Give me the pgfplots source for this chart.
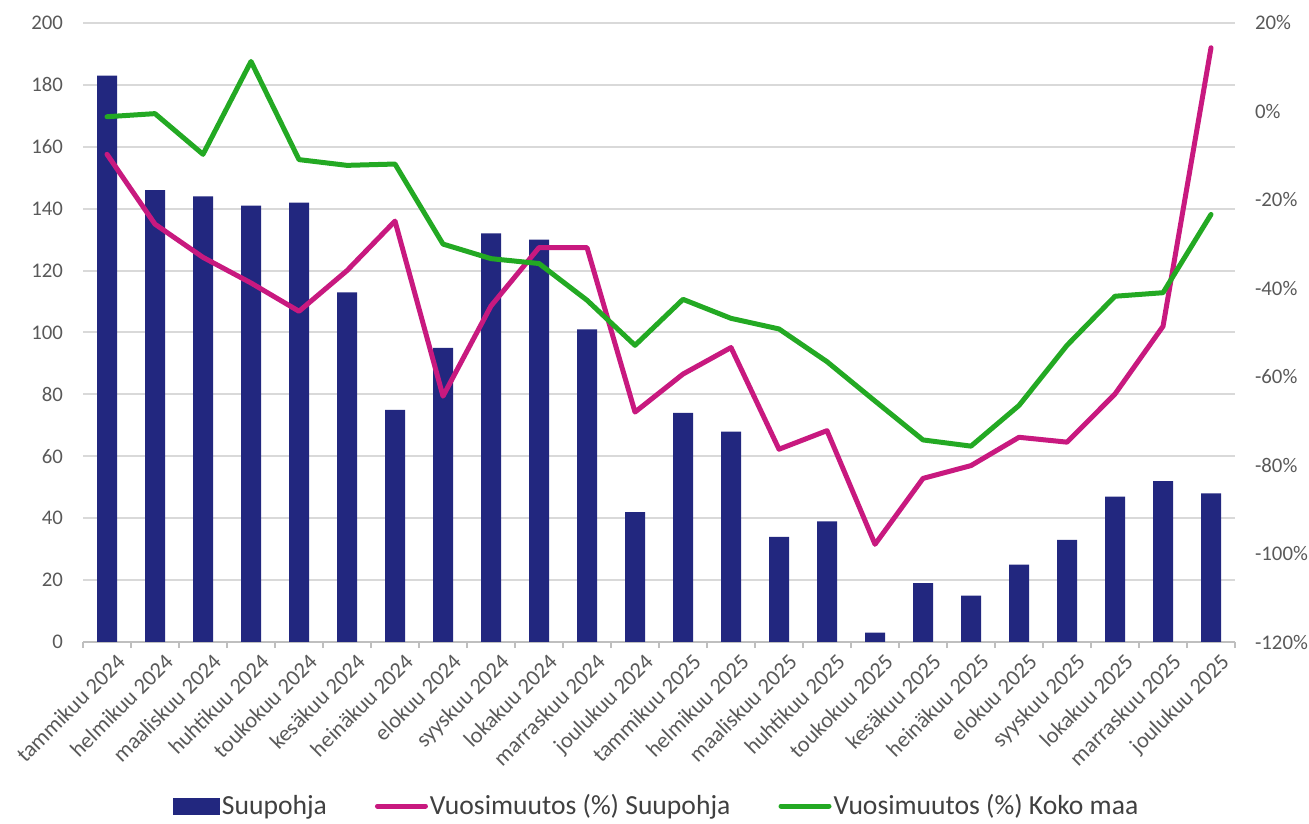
\documentclass[border=0pt]{standalone}
\usepackage{fontspec}
\setmainfont{Carlito}
\usepackage{pgfplots}
\usepackage{pgfplotstable}
\pgfplotsset{compat=1.18}

\definecolor{suunavy}{HTML}{22277F}
\definecolor{suumag}{HTML}{C8197F}
\definecolor{kokogreen}{HTML}{23A923}
\definecolor{gridgray}{HTML}{D9D9D9}
\definecolor{axisgray}{HTML}{BFBFBF}
\definecolor{labelgray}{HTML}{595959}
\definecolor{legendgray}{HTML}{404040}

% kpl = Suupohja (left), suu / koko = vuosimuutos % (right)
\pgfplotstableread{
idx kpl suu koko
0 183 -9.7 -1.2
1 146 -25.5 -0.5
2 144 -33.0 -9.7
3 141 -38.8 11.3
4 142 -45.2 -10.9
5 113 -36.0 -12.2
6 75 -24.8 -11.9
7 95 -64.4 -30.0
8 132 -44.0 -33.3
9 130 -30.8 -34.4
10 101 -30.8 -42.7
11 42 -68.0 -52.9
12 74 -59.4 -42.5
13 68 -53.4 -46.8
14 34 -76.4 -49.2
15 39 -72.2 -56.6
16 3 -97.9 -65.5
17 19 -83.0 -74.3
18 15 -80.1 -75.7
19 25 -73.7 -66.5
20 33 -74.8 -52.9
21 47 -63.9 -41.8
22 52 -48.6 -41.0
23 48 14.4 -23.3
}\data

\pgfplotsset{
  common/.style={
    at={(0,0)}, anchor=south west,
    scale only axis, width=576pt, height=309.5pt,
    xmin=-0.5, xmax=23.5,
    major tick length=0pt,
    tick label style={font=\fontsize{10.4}{12}\selectfont, text=labelgray},
    /pgf/number format/assume math mode=true,
  },
  shortline/.style={legend image code/.code={\draw[##1] (0pt,0pt) -- (24pt,0pt);}},
}

\begin{document}
\begin{tikzpicture}
\useasboundingbox (-41.5pt,-90.5pt) rectangle (613pt,321pt);
\begin{axis}[
  common,
  ymin=0, ymax=200,
  axis x line*=bottom, axis y line*=left,
  axis line style={-},
  x axis line style={axisgray, line width=1pt},
  y axis line style={draw=none},
  ymajorgrids, major grid style={gridgray, line width=1pt},
  ytick={0,20,40,60,80,100,120,140,160,180,200},
  yticklabels={0,20,40,60,80,100,120,140,160,180,200},
  yticklabel style={xshift=-6.5pt},
  xtick={0,...,23},
  xticklabels={tammikuu 2024,helmikuu 2024,maaliskuu 2024,huhtikuu 2024,toukokuu 2024,kesäkuu 2024,heinäkuu 2024,elokuu 2024,syyskuu 2024,lokakuu 2024,marraskuu 2024,joulukuu 2024,tammikuu 2025,helmikuu 2025,maaliskuu 2025,huhtikuu 2025,toukokuu 2025,kesäkuu 2025,heinäkuu 2025,elokuu 2025,syyskuu 2025,lokakuu 2025,marraskuu 2025,joulukuu 2025},
  xticklabel style={rotate=45, anchor=north east, yshift=-3pt, xshift=3pt,
    font=\fontsize{11.2}{13}\selectfont},
  minor xtick={-0.5,0.5,...,23.5},
  minor tick length=3pt, tick align=outside,
  minor tick style={axisgray, line width=1pt},
  xtick pos=lower,
]
\addplot[ybar, bar width=10pt, fill=suunavy, draw=none] table[x=idx, y=kpl] {\data};
\end{axis}

\begin{axis}[
  common,
  ymin=-120, ymax=20,
  axis x line=none,
  axis y line*=right,
  y axis line style={draw=none},
  ytick={-120,-100,-80,-60,-40,-20,0,20},
  yticklabels={-120\%,-100\%,-80\%,-60\%,-40\%,-20\%,0\%,20\%},
  yticklabel style={xshift=6.5pt},
  legend columns=3,
  legend style={at={(0.498,-0.265)}, anchor=center, draw=none, fill=none,
    font=\fontsize{13.8}{16}\selectfont, text=legendgray,
    nodes={inner sep=1pt},
    /tikz/every even column/.append style={column sep=23pt}},
]
\addlegendimage{legend image code/.code={\fill[suunavy] (0pt,-4pt) rectangle (23pt,4pt);}}
\addlegendentry{Suupohja}
\addplot[suumag, line width=2.5pt, line join=round, line cap=round, shortline]
  table[x=idx, y=suu] {\data};
\addlegendentry{Vuosimuutos (\%) Suupohja}
\addplot[kokogreen, line width=2.5pt, line join=round, line cap=round, shortline]
  table[x=idx, y=koko] {\data};
\addlegendentry{Vuosimuutos (\%) Koko maa}
\end{axis}
\end{tikzpicture}
\end{document}
